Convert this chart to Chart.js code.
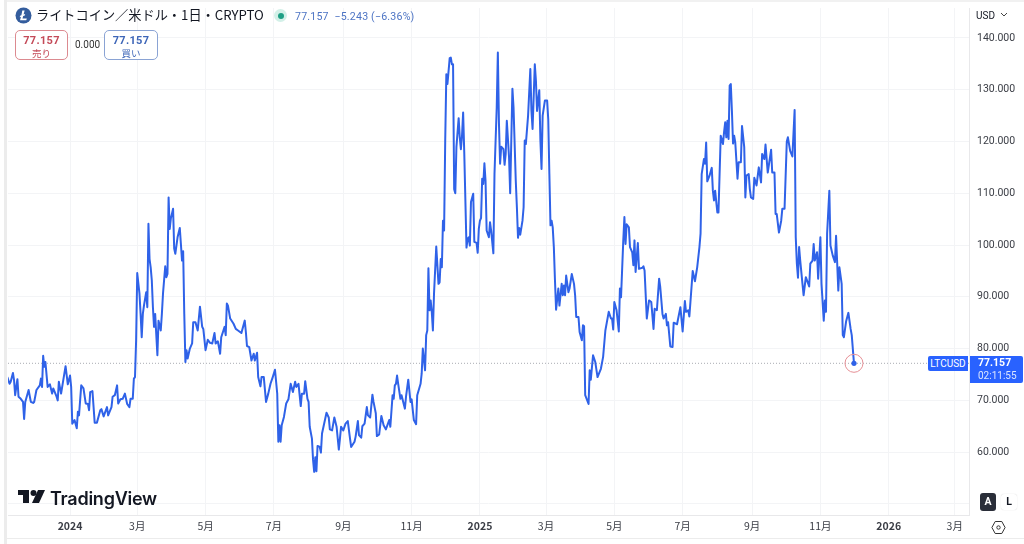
<!DOCTYPE html>
<html lang="ja">
<head>
<meta charset="utf-8">
<title>LTCUSD</title>
<script src="https://cdn.jsdelivr.net/npm/chart.js@4"></script>
<style>
html,body{margin:0;padding:0;background:#fff;width:1024px;height:544px;overflow:hidden;font-family:"Noto Sans CJK JP","Noto Sans",sans-serif;}
#wrap{position:relative;width:1024px;height:544px;overflow:hidden;}
canvas{position:absolute;left:-2px;top:-2px;}
.o{position:absolute;white-space:nowrap;line-height:1;}
.box{position:absolute;box-sizing:border-box;border-radius:5px;background:#fff;text-align:center;}
.box b{display:block;font:700 11px Roboto,sans-serif;margin-top:3px;letter-spacing:.3px;}
.box span{display:block;font-size:9.5px;line-height:12px;}
</style>
</head>
<body>
<div id="wrap">
<canvas id="c" width="1026" height="546"></canvas>
<div class="o" style="left:4px;top:0;width:3px;height:544px;background:#ececec"></div>
<div class="o" style="left:7px;top:0;width:1017px;height:2px;background:#f1f1f1"></div>
<div class="o" style="left:7px;top:538px;width:1017px;height:1px;background:#ececec"></div>
<svg class="o" style="left:15px;top:7px" width="17" height="17" viewBox="0 0 17 17"><circle cx="8.5" cy="8.5" r="8" fill="#345d9d"/><path d="M7.3 3.6h2.3l-1 4 1.6-.6-.4 1.5-1.6.6-.7 2.4h4.3l-.5 1.7H5l1-3.5-1.3.5.4-1.4 1.3-.5z" fill="#fff"/></svg>
<div class="o" style="left:36px;top:8px;font-size:13.2px;color:#131722">ライトコイン／米ドル・1日・CRYPTO</div>
<div class="o" style="left:274px;top:9px;width:13px;height:13px;border-radius:50%;background:#d3f0e8"></div>
<div class="o" style="left:278px;top:13px;width:6px;height:6px;border-radius:50%;background:#1f9f85"></div>
<div class="o" style="left:295px;top:10px;font:10.6px Roboto,sans-serif;color:#4d74c4;letter-spacing:.2px">77.157&nbsp; −5.243 (−6.36%)</div>
<div class="box" style="left:15px;top:30px;width:53px;height:30px;border:1px solid #dc8a90;color:#c44a58"><b>77.157</b><span>売り</span></div>
<div class="o" style="left:75px;top:39px;font:10px Roboto,sans-serif;color:#333">0.000</div>
<div class="box" style="left:104px;top:30px;width:54px;height:30px;border:1px solid #8aa3d4;color:#3e66b8"><b>77.157</b><span>買い</span></div>
<div class="o" style="left:976px;top:10px;font:10px Roboto,sans-serif;color:#131722">USD</div>
<svg class="o" style="left:1000px;top:12px" width="8" height="6"><path d="M1 1l3 3 3-3" fill="none" stroke="#444" stroke-width="1"/></svg>
<div class="o" style="left:928px;top:356px;width:40px;height:15px;background:#2962ff;color:#fff;font:10px/15px Roboto,sans-serif;text-align:center;border-radius:2px 0 0 2px">LTCUSD</div>
<div class="o" style="left:970px;top:356px;width:53px;height:27px;background:#2962ff;color:#fff;border-radius:0 2px 2px 0">
<div style="font:700 10.5px/14px Roboto,sans-serif;padding-left:8px">77.157</div>
<div style="font:10px/12px Roboto,sans-serif;padding-left:8px;color:#dbe5ff">02:11:55</div></div>
<div class="o" style="left:980px;top:493px;width:16px;height:18px;background:#2a2e39;border-radius:3px;color:#fff;font:700 10.5px/18px Roboto,sans-serif;text-align:center">A</div>
<div class="o" style="left:1001px;top:494px;width:16px;height:16px;background:#fff;border-radius:3px;color:#131722;font:700 10.5px/16px Roboto,sans-serif;text-align:center;box-shadow:0 0 1px #ccc">L</div>
<svg class="o" style="left:991px;top:520px" width="15" height="15" viewBox="0 0 15 15"><path d="M4.2 1.5h6.6l3.3 6-3.3 6H4.2l-3.3-6z" fill="none" stroke="#333" stroke-width="1"/><circle cx="7.5" cy="7.5" r="1.7" fill="none" stroke="#333" stroke-width="1"/></svg>
<svg class="o" style="left:18px;top:489px" width="27" height="15" viewBox="0 0 27 15"><path d="M0 1h11v13H5V6H0z" fill="#131722"/><circle cx="15.5" cy="4" r="3" fill="#131722"/><path d="M20 1h7l-6 13h-7z" fill="#131722"/></svg>
<div class="o" style="left:50px;top:488px;font:600 18px Inter,Roboto,sans-serif;color:#131722;letter-spacing:-.25px">TradingView</div>
</div>
<script>
const tickDays = [0,60,121,182,244,305,366,425,486,547,609,670,731,790];
const tickLabels = ["2024","3月","5月","7月","9月","11月","2025","3月","5月","7月","9月","11月","2026","3月"];
const priceTicks = [50,60,70,80,90,100,110,120,130,140];
const lastPrice = 77.157;
const days = [-56,-54,-53,-51,-50,-49,-47,-46,-44,-42,-41,-40,-37,-35,-33,-32,-30,-27,-26,-25,-24,-23,-22,-20,-18,-16,-15,-12,-11,-10,-8,-4,-2,0,1,2,4,6,7,8,10,12,14,16,17,18,20,22,24,27,28,30,33,34,37,38,40,42,43,45,47,49,51,53,54,56,57,58,59,60,62,63,64,65,66,68,69,70,71,72,73,74,75,76,78,79,81,82,83,85,86,87,88,89,90,92,93,94,96,98,100,101,102,103,104,105,107,109,110,112,114,116,118,119,121,123,125,127,129,130,132,134,135,138,139,140,141,143,146,148,150,153,156,157,158,160,162,164,165,167,168,170,171,173,175,177,179,181,183,185,186,187,188,189,191,193,195,197,199,201,202,204,206,207,209,210,212,213,214,216,217,218,219,220,221,223,224,225,229,231,232,234,236,238,240,241,242,244,246,248,250,251,254,255,257,258,260,261,263,265,266,268,270,271,273,274,276,278,280,282,285,286,288,289,290,291,292,293,295,296,299,300,302,304,305,307,309,310,313,314,315,317,318,319,320,321,322,323,324,325,327,329,330,331,332,333,334,335,336,337,339,340,341,342,343,344,345,347,348,349,350,351,352,354,355,356,357,358,360,361,363,364,365,366,367,368,369,370,371,372,374,375,376,378,379,381,382,383,384,385,387,388,389,390,392,393,394,395,396,398,399,400,401,402,404,405,406,407,409,411,412,413,415,416,417,419,420,421,422,424,426,427,428,429,430,431,432,433,434,436,437,439,440,441,442,443,445,446,448,450,451,452,454,455,457,458,459,460,463,464,465,467,469,471,474,476,478,481,483,484,485,486,488,490,491,492,494,495,496,497,499,500,502,503,504,505,507,508,511,512,513,515,517,519,521,522,524,526,527,529,530,532,533,534,536,538,539,542,545,547,549,550,552,553,556,558,560,562,563,564,566,567,568,569,571,573,574,575,576,578,579,581,583,584,585,586,587,588,589,590,591,592,593,594,596,597,599,600,602,603,604,606,607,608,610,611,613,615,617,618,620,621,623,626,627,629,630,631,633,635,636,638,640,641,643,645,647,648,649,650,651,652,654,655,657,660,661,663,664,665,667,668,670,671,673,674,675,676,678,679,681,683,684,686,687,689,690,691,693,695,697,698,700];
const prices = [74.5,73.2,73.6,75.3,73.9,71.0,74.1,70.7,70.3,69.7,66.4,69.7,72.0,69.7,69.5,69.7,72.0,72.9,74.2,72.6,78.6,76.5,77.4,72.6,73.1,71.3,72.3,70.7,70.0,73.6,71.3,76.6,73.1,74.8,72.6,65.5,66.2,64.6,67.8,67.1,72.9,72.3,69.4,69.3,68.1,71.6,71.8,65.7,65.7,68.1,68.3,66.9,68.7,67.1,68.7,70.7,71.0,72.9,69.4,70.2,70.3,71.3,69.3,68.7,70.3,70.3,74.2,74.5,81.6,94.6,90.6,86.7,82.2,86.7,88.3,90.9,88.0,104.1,97.3,95.7,93.2,88.0,84.2,86.7,78.7,85.4,83.5,86.7,90.6,95.9,93.8,94.4,109.2,103.1,105.1,107.0,99.3,98.3,101.5,103.3,97.0,98.8,86.7,77.4,79.7,78.1,80.0,81.0,85.1,85.1,83.5,88.1,84.2,83.8,79.7,81.7,81.1,81.0,83.0,81.0,81.4,79.0,82.2,84.2,82.6,88.7,88.3,85.8,84.8,83.8,83.5,83.0,85.4,83.2,80.5,80.3,77.7,79.0,77.7,79.2,74.5,72.7,74.5,74.5,69.7,71.3,73.2,74.5,75.9,71.3,62.0,65.2,62.0,65.2,66.8,69.4,70.2,73.2,71.6,73.6,72.6,73.2,68.9,71.3,71.3,73.7,70.3,69.7,64.9,62.6,58.5,56.2,59.0,56.3,61.2,61.0,59.9,63.6,67.6,66.7,64.4,64.2,66.7,64.9,60.5,62.6,64.9,64.2,65.5,66.0,62.6,61.0,62.0,63.0,66.0,63.3,62.8,65.0,65.5,68.7,67.1,66.7,71.1,69.7,67.5,63.1,63.4,67.0,65.2,64.4,66.2,64.9,71.0,70.3,72.9,73.2,74.8,73.2,70.3,71.0,68.4,70.7,74.0,69.7,70.2,66.2,65.4,71.0,73.2,75.2,80.0,75.8,82.6,83.5,95.5,87.4,89.3,87.1,83.5,90.6,99.7,92.5,92.8,97.3,95.7,104.7,102.8,120.2,133.0,131.1,136.1,136.2,134.9,134.9,110.8,110.0,118.9,124.5,120.8,118.5,121.1,125.6,117.9,99.5,101.2,101.5,99.9,108.3,109.9,100.6,100.4,98.5,103.1,104.7,105.2,112.8,111.8,115.8,112.4,102.8,101.5,104.4,102.8,98.4,113.7,126.6,137.2,123.4,115.7,119.0,118.5,115.5,117.6,124.0,116.9,110.0,120.2,130.2,126.6,112.4,107.3,101.4,103.3,102.0,104.7,107.3,120.2,119.5,125.0,134.0,125.9,122.4,134.9,131.7,125.9,129.9,120.2,114.7,125.0,127.9,127.9,124.3,113.7,103.8,104.7,103.4,99.6,93.2,87.5,91.6,88.3,92.5,90.3,92.2,90.3,94.1,90.9,91.6,94.4,92.5,90.3,86.1,86.1,83.2,81.6,84.5,84.3,71.0,69.3,75.8,74.0,78.7,77.4,74.5,76.1,78.4,83.5,87.1,85.8,85.8,83.7,89.0,87.4,83.3,91.6,89.9,100.9,105.4,100.2,104.0,103.4,99.6,98.6,96.1,100.9,94.8,100.4,95.4,95.6,95.9,95.1,85.8,89.3,89.0,83.8,87.7,87.4,93.5,91.9,86.7,85.8,86.7,84.5,85.1,80.4,80.3,85.0,84.7,88.0,83.3,89.2,87.1,87.4,86.2,95.0,93.0,95.7,99.6,102.2,113.7,116.6,115.7,119.8,112.3,113.4,114.9,110.5,108.6,110.5,106.3,106.3,121.1,119.5,121.8,123.7,120.8,124.0,120.5,130.8,131.1,125.9,119.6,121.1,119.8,112.8,116.0,116.0,123.0,118.9,109.2,113.4,113.7,110.8,109.2,108.9,113.0,111.5,115.0,112.1,117.6,116.6,119.4,114.0,118.4,114.0,114.0,106.0,106.0,102.4,104.7,107.0,107.0,120.0,120.8,118.2,117.1,126.1,101.5,96.4,93.7,99.6,97.0,92.5,90.3,93.8,92.0,96.4,97.0,100.2,97.0,98.6,93.5,101.5,92.5,85.4,89.3,87.1,102.2,110.5,99.9,98.0,96.7,101.8,91.2,95.7,92.5,82.6,82.2,85.3,86.9,83.8,82.6,77.157];

const yMin = 47.86, yMax = 145.78, xMin = -55.4, xMax = 802.7;
const gridColor = '#f3f4f6', axisColor = '#e8e8ea', lineColor = '#2f62e8';
const series = days.map((d,i)=>({x:d,y:prices[i]}));
const lastPoint = [{x:days[days.length-1],y:lastPrice}];

new Chart(document.getElementById('c'),{
  type:'line',
  data:{datasets:[
    {data:lastPoint,showLine:false,pointRadius:2.6,pointBackgroundColor:lineColor,pointBorderWidth:0,order:0},
    {data:lastPoint,showLine:false,pointRadius:9,pointBackgroundColor:'rgba(255,255,255,0)',pointBorderColor:'#e58f95',pointBorderWidth:1,order:1},
    {data:series,borderColor:lineColor,borderWidth:2,pointRadius:0,tension:0,borderJoinStyle:'round',order:2},
    {data:[{x:xMin,y:lastPrice},{x:xMax,y:lastPrice}],borderColor:'#a9acb2',borderWidth:1,borderDash:[1,2],pointRadius:0,order:3}
  ]},
  options:{
    responsive:false,animation:false,devicePixelRatio:1,
    layout:{padding:{left:6,top:5,right:0,bottom:6}},
    plugins:{legend:{display:false},tooltip:{enabled:false}},
    scales:{
      x:{type:'linear',min:xMin,max:xMax,
        afterBuildTicks(s){s.ticks=tickDays.map(v=>({value:v}));},
        afterFit(s){s.height=23;s.paddingLeft=0;s.paddingRight=0;},
        grid:{color:gridColor,drawTicks:false},border:{color:axisColor},
        ticks:{autoSkip:false,maxRotation:0,padding:5,color:'#3a3d45',
          callback(v){return tickLabels[tickDays.indexOf(v)];},
          font(ctx){const t=ctx.tick&&tickLabels[tickDays.indexOf(ctx.tick.value)];
            return {family:'"Noto Sans CJK JP",Roboto,sans-serif',size:10.5,weight:t&&t.startsWith('20')?'700':'400'};}}},
      y:{type:'linear',position:'right',min:yMin,max:yMax,
        afterBuildTicks(s){s.ticks=priceTicks.map(v=>({value:v}));},
        afterFit(s){s.width=55;s.paddingTop=0;s.paddingBottom=0;},
        grid:{color:gridColor,drawTicks:false},border:{color:axisColor},
        ticks:{autoSkip:false,padding:8,color:'#3a3d45',font:{family:'Roboto,sans-serif',size:10.5},
          callback(v){return v===50?'':v.toFixed(3);}}}
    }
  }
});
</script>
</body>
</html>
